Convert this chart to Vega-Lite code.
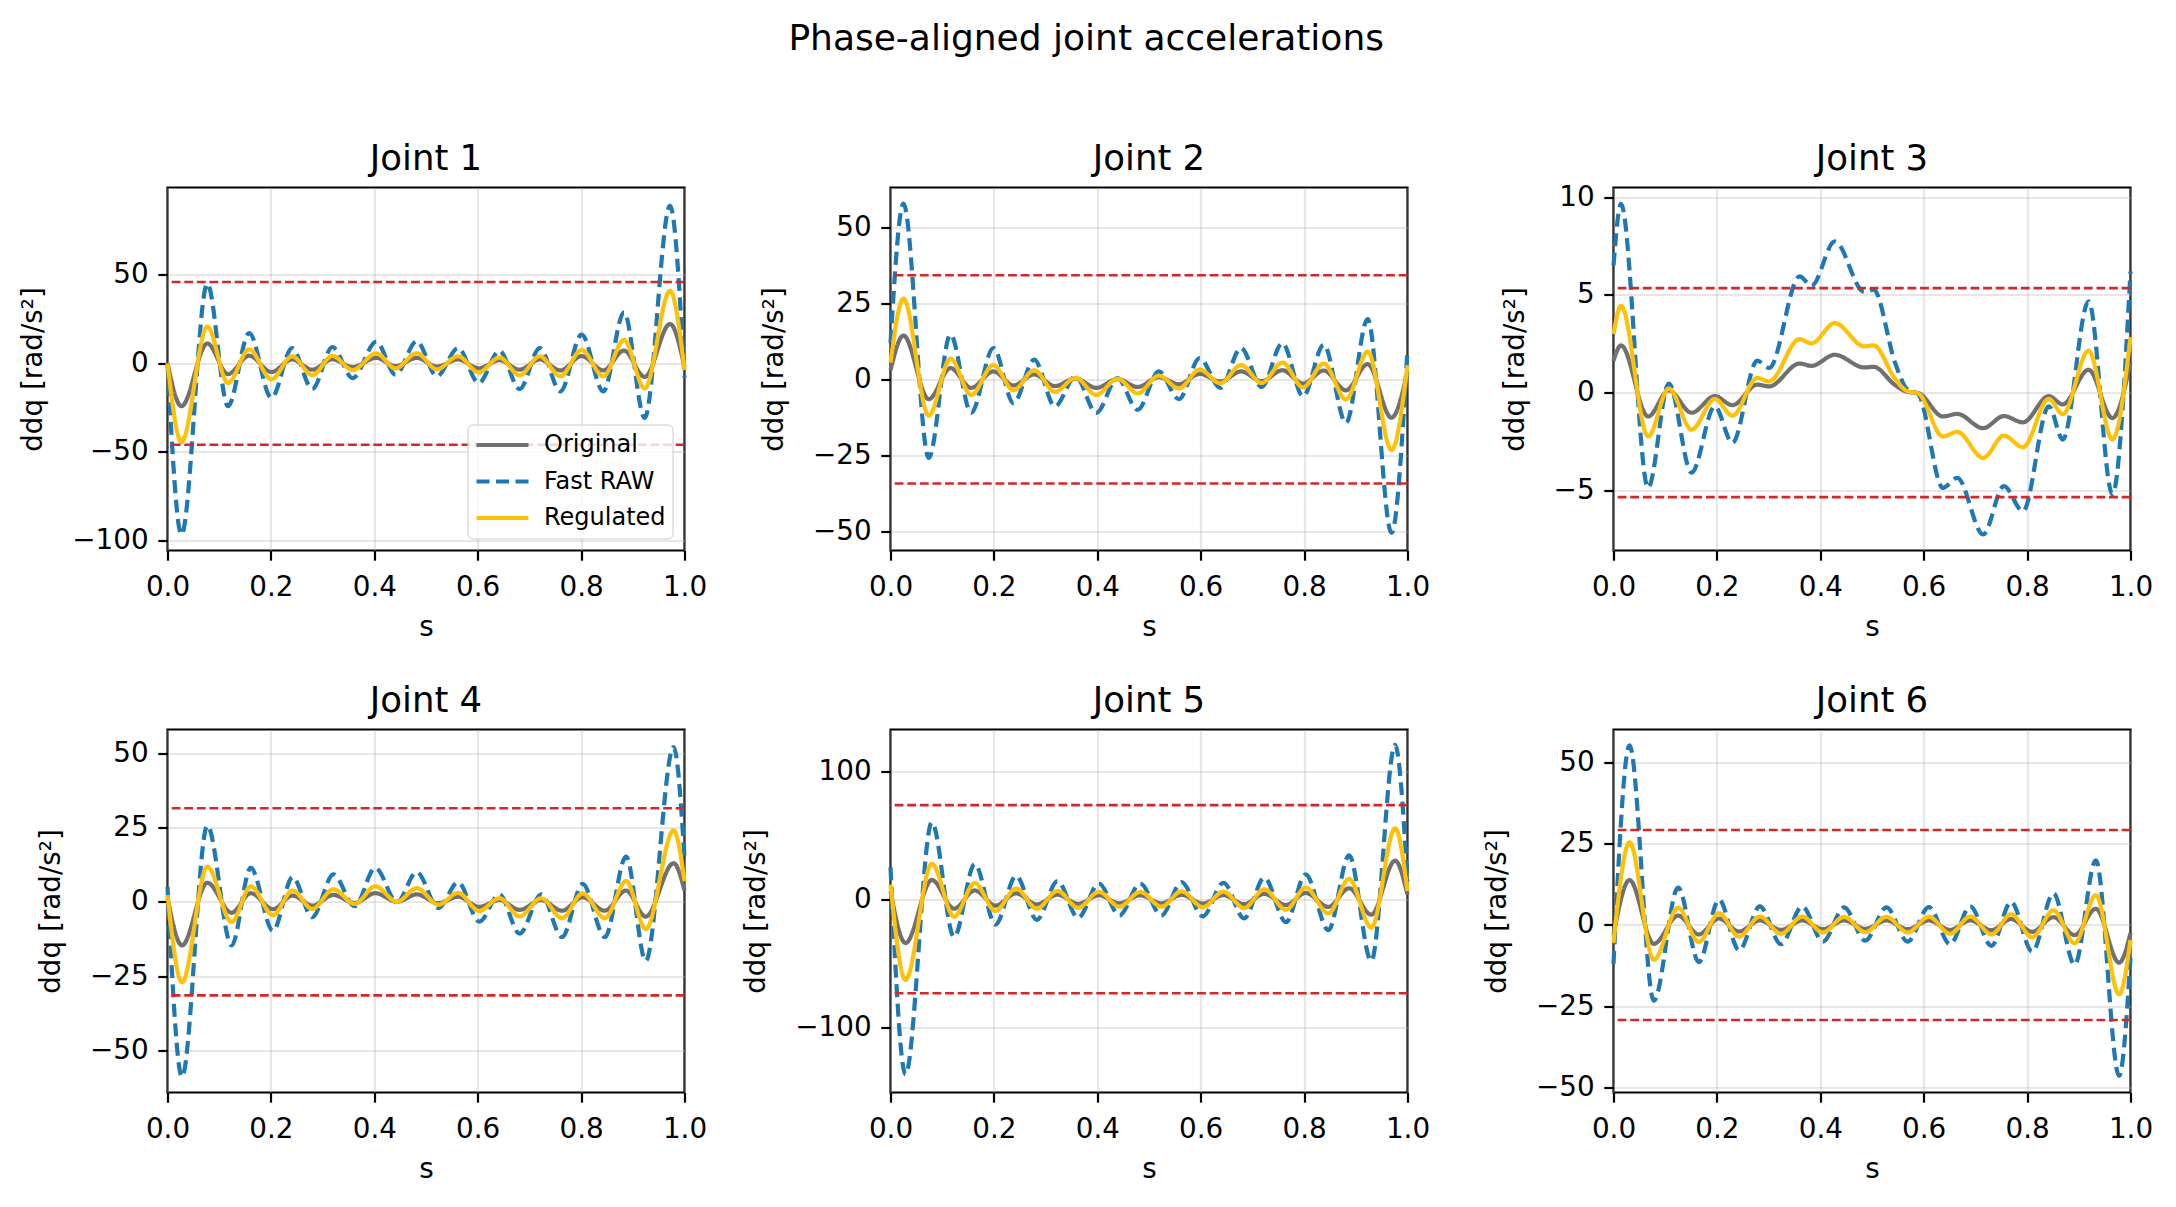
{
  "$schema": "https://vega.github.io/schema/vega-lite/v6.json",
  "background": "white",
  "autosize": {"type": "none"},
  "padding": {"left": 167.5, "top": 187.5, "right": 2008.5, "bottom": 1019.5},
  "title": {"text": "Phase-aligned joint accelerations", "fontSize": 36, "fontWeight": "normal", "color": "black", "anchor": "middle", "frame": "bounds", "baseline": "alphabetic", "offset": 55},
  "datasets": {
    "acc": [
      {"j":1,"s":0,"Original":0,"Fast RAW":0,"Regulated":0},
      {"j":1,"s":0.027,"Original":-24.2,"Fast RAW":-96.6,"Regulated":-44.4},
      {"j":1,"s":0.077,"Original":11.2,"Fast RAW":44.9,"Regulated":20.7},
      {"j":1,"s":0.117,"Original":-6.1,"Fast RAW":-24.2,"Regulated":-11.1},
      {"j":1,"s":0.158,"Original":4.3,"Fast RAW":17.1,"Regulated":7.9},
      {"j":1,"s":0.201,"Original":-4.9,"Fast RAW":-19.5,"Regulated":-9.0},
      {"j":1,"s":0.241,"Original":2.2,"Fast RAW":8.6,"Regulated":4.0},
      {"j":1,"s":0.28,"Original":-3.6,"Fast RAW":-14.5,"Regulated":-6.7},
      {"j":1,"s":0.319,"Original":2.3,"Fast RAW":9.2,"Regulated":4.2},
      {"j":1,"s":0.358,"Original":-2.1,"Fast RAW":-8.3,"Regulated":-3.8},
      {"j":1,"s":0.404,"Original":3.1,"Fast RAW":12.2,"Regulated":5.6},
      {"j":1,"s":0.441,"Original":-1.6,"Fast RAW":-6.4,"Regulated":-2.9},
      {"j":1,"s":0.482,"Original":3.1,"Fast RAW":12.4,"Regulated":5.7},
      {"j":1,"s":0.521,"Original":-1.8,"Fast RAW":-7.3,"Regulated":-3.4},
      {"j":1,"s":0.562,"Original":2.2,"Fast RAW":8.6,"Regulated":4.0},
      {"j":1,"s":0.602,"Original":-2.8,"Fast RAW":-11.1,"Regulated":-5.1},
      {"j":1,"s":0.642,"Original":1.8,"Fast RAW":7.1,"Regulated":3.3},
      {"j":1,"s":0.681,"Original":-3.6,"Fast RAW":-14.5,"Regulated":-6.7},
      {"j":1,"s":0.72,"Original":2.2,"Fast RAW":8.6,"Regulated":4.0},
      {"j":1,"s":0.76,"Original":-4.0,"Fast RAW":-15.8,"Regulated":-7.3},
      {"j":1,"s":0.801,"Original":4.1,"Fast RAW":16.2,"Regulated":7.5},
      {"j":1,"s":0.843,"Original":-4.0,"Fast RAW":-15.8,"Regulated":-7.3},
      {"j":1,"s":0.883,"Original":7.2,"Fast RAW":28.8,"Regulated":13.2},
      {"j":1,"s":0.923,"Original":-7.7,"Fast RAW":-30.8,"Regulated":-14.2},
      {"j":1,"s":0.972,"Original":22.2,"Fast RAW":88.9,"Regulated":40.9},
      {"j":1,"s":1,"Original":-2.0,"Fast RAW":-8,"Regulated":-3.7},

      {"j":2,"s":0,"Original":3.0,"Fast RAW":12,"Regulated":5.5},
      {"j":2,"s":0.025,"Original":14.4,"Fast RAW":57.7,"Regulated":26.5},
      {"j":2,"s":0.074,"Original":-6.5,"Fast RAW":-25.8,"Regulated":-11.9},
      {"j":2,"s":0.116,"Original":3.7,"Fast RAW":14.7,"Regulated":6.8},
      {"j":2,"s":0.156,"Original":-2.8,"Fast RAW":-11,"Regulated":-5.1},
      {"j":2,"s":0.199,"Original":2.6,"Fast RAW":10.3,"Regulated":4.7},
      {"j":2,"s":0.238,"Original":-2.0,"Fast RAW":-7.8,"Regulated":-3.6},
      {"j":2,"s":0.278,"Original":1.6,"Fast RAW":6.5,"Regulated":3.0},
      {"j":2,"s":0.318,"Original":-2.2,"Fast RAW":-8.9,"Regulated":-4.1},
      {"j":2,"s":0.358,"Original":0.3,"Fast RAW":1.0,"Regulated":0.5},
      {"j":2,"s":0.398,"Original":-2.8,"Fast RAW":-11,"Regulated":-5.1},
      {"j":2,"s":0.439,"Original":0.1,"Fast RAW":0.4,"Regulated":0.2},
      {"j":2,"s":0.478,"Original":-2.5,"Fast RAW":-10,"Regulated":-4.6},
      {"j":2,"s":0.519,"Original":0.7,"Fast RAW":2.6,"Regulated":1.2},
      {"j":2,"s":0.558,"Original":-1.6,"Fast RAW":-6.5,"Regulated":-3.0},
      {"j":2,"s":0.598,"Original":1.8,"Fast RAW":7.0,"Regulated":3.2},
      {"j":2,"s":0.638,"Original":-0.7,"Fast RAW":-2.8,"Regulated":-1.3},
      {"j":2,"s":0.678,"Original":2.6,"Fast RAW":10.3,"Regulated":4.7},
      {"j":2,"s":0.718,"Original":-0.6,"Fast RAW":-2.5,"Regulated":-1.2},
      {"j":2,"s":0.758,"Original":3.0,"Fast RAW":11.9,"Regulated":5.5},
      {"j":2,"s":0.798,"Original":-1.4,"Fast RAW":-5.6,"Regulated":-2.6},
      {"j":2,"s":0.838,"Original":2.9,"Fast RAW":11.4,"Regulated":5.2},
      {"j":2,"s":0.881,"Original":-3.6,"Fast RAW":-14.3,"Regulated":-6.6},
      {"j":2,"s":0.923,"Original":5.0,"Fast RAW":19.8,"Regulated":9.1},
      {"j":2,"s":0.969,"Original":-12.6,"Fast RAW":-50.4,"Regulated":-23.2},
      {"j":2,"s":1,"Original":2.5,"Fast RAW":10,"Regulated":4.6},

      {"j":3,"s":0,"Original":1.63,"Fast RAW":6.5,"Regulated":2.99},
      {"j":3,"s":0.0145,"Original":2.42,"Fast RAW":9.66,"Regulated":4.44},
      {"j":3,"s":0.067,"Original":-1.22,"Fast RAW":-4.87,"Regulated":-2.24},
      {"j":3,"s":0.107,"Original":0.12,"Fast RAW":0.46,"Regulated":0.21},
      {"j":3,"s":0.151,"Original":-1.03,"Fast RAW":-4.1,"Regulated":-1.89},
      {"j":3,"s":0.196,"Original":-0.18,"Fast RAW":-0.7,"Regulated":-0.32},
      {"j":3,"s":0.23,"Original":-0.64,"Fast RAW":-2.57,"Regulated":-1.18},
      {"j":3,"s":0.278,"Original":0.41,"Fast RAW":1.64,"Regulated":0.75},
      {"j":3,"s":0.301,"Original":0.32,"Fast RAW":1.26,"Regulated":0.58},
      {"j":3,"s":0.36,"Original":1.49,"Fast RAW":5.95,"Regulated":2.74},
      {"j":3,"s":0.383,"Original":1.37,"Fast RAW":5.47,"Regulated":2.52},
      {"j":3,"s":0.428,"Original":1.94,"Fast RAW":7.74,"Regulated":3.56},
      {"j":3,"s":0.485,"Original":1.29,"Fast RAW":5.15,"Regulated":2.37},
      {"j":3,"s":0.503,"Original":1.32,"Fast RAW":5.27,"Regulated":2.42},
      {"j":3,"s":0.545,"Original":0.38,"Fast RAW":1.5,"Regulated":0.69},
      {"j":3,"s":0.567,"Original":0.05,"Fast RAW":0.2,"Regulated":0.09},
      {"j":3,"s":0.59,"Original":-0.03,"Fast RAW":-0.1,"Regulated":-0.05},
      {"j":3,"s":0.637,"Original":-1.22,"Fast RAW":-4.87,"Regulated":-2.24},
      {"j":3,"s":0.665,"Original":-1.09,"Fast RAW":-4.36,"Regulated":-2.01},
      {"j":3,"s":0.715,"Original":-1.82,"Fast RAW":-7.26,"Regulated":-3.34},
      {"j":3,"s":0.755,"Original":-1.2,"Fast RAW":-4.79,"Regulated":-2.2},
      {"j":3,"s":0.792,"Original":-1.52,"Fast RAW":-6.07,"Regulated":-2.79},
      {"j":3,"s":0.842,"Original":-0.18,"Fast RAW":-0.7,"Regulated":-0.32},
      {"j":3,"s":0.869,"Original":-0.6,"Fast RAW":-2.4,"Regulated":-1.1},
      {"j":3,"s":0.919,"Original":1.17,"Fast RAW":4.67,"Regulated":2.15},
      {"j":3,"s":0.965,"Original":-1.3,"Fast RAW":-5.2,"Regulated":-2.39},
      {"j":3,"s":1,"Original":1.55,"Fast RAW":6.2,"Regulated":2.85},

      {"j":4,"s":0,"Original":1.3,"Fast RAW":5,"Regulated":2.3},
      {"j":4,"s":0.028,"Original":-14.7,"Fast RAW":-58.9,"Regulated":-27.1},
      {"j":4,"s":0.077,"Original":6.4,"Fast RAW":25.6,"Regulated":11.8},
      {"j":4,"s":0.124,"Original":-3.7,"Fast RAW":-14.7,"Regulated":-6.8},
      {"j":4,"s":0.161,"Original":2.9,"Fast RAW":11.4,"Regulated":5.2},
      {"j":4,"s":0.204,"Original":-2.5,"Fast RAW":-9.8,"Regulated":-4.5},
      {"j":4,"s":0.242,"Original":2.1,"Fast RAW":8.3,"Regulated":3.8},
      {"j":4,"s":0.28,"Original":-1.3,"Fast RAW":-5.2,"Regulated":-2.4},
      {"j":4,"s":0.321,"Original":2.3,"Fast RAW":9.2,"Regulated":4.2},
      {"j":4,"s":0.362,"Original":-0.4,"Fast RAW":-1.5,"Regulated":-0.7},
      {"j":4,"s":0.402,"Original":2.9,"Fast RAW":11.4,"Regulated":5.2},
      {"j":4,"s":0.444,"Original":0.0,"Fast RAW":-0.1,"Regulated":0.0},
      {"j":4,"s":0.482,"Original":2.5,"Fast RAW":10.0,"Regulated":4.6},
      {"j":4,"s":0.524,"Original":-0.5,"Fast RAW":-2.1,"Regulated":-1.0},
      {"j":4,"s":0.562,"Original":1.7,"Fast RAW":6.6,"Regulated":3.0},
      {"j":4,"s":0.603,"Original":-1.7,"Fast RAW":-6.7,"Regulated":-3.1},
      {"j":4,"s":0.642,"Original":0.6,"Fast RAW":2.5,"Regulated":1.2},
      {"j":4,"s":0.681,"Original":-2.7,"Fast RAW":-10.7,"Regulated":-4.9},
      {"j":4,"s":0.723,"Original":0.6,"Fast RAW":2.5,"Regulated":1.2},
      {"j":4,"s":0.763,"Original":-3.0,"Fast RAW":-11.9,"Regulated":-5.5},
      {"j":4,"s":0.803,"Original":1.5,"Fast RAW":6.0,"Regulated":2.8},
      {"j":4,"s":0.846,"Original":-3.0,"Fast RAW":-11.9,"Regulated":-5.5},
      {"j":4,"s":0.887,"Original":3.8,"Fast RAW":15.2,"Regulated":7.0},
      {"j":4,"s":0.925,"Original":-5.0,"Fast RAW":-19.9,"Regulated":-9.2},
      {"j":4,"s":0.979,"Original":13.0,"Fast RAW":52.1,"Regulated":24.0},
      {"j":4,"s":1,"Original":3.8,"Fast RAW":15,"Regulated":6.9},

      {"j":5,"s":0,"Original":6.3,"Fast RAW":25,"Regulated":11.5},
      {"j":5,"s":0.029,"Original":-34.3,"Fast RAW":-137.1,"Regulated":-63.1},
      {"j":5,"s":0.08,"Original":15.1,"Fast RAW":60.2,"Regulated":27.7},
      {"j":5,"s":0.123,"Original":-7.4,"Fast RAW":-29.5,"Regulated":-13.6},
      {"j":5,"s":0.163,"Original":6.9,"Fast RAW":27.6,"Regulated":12.7},
      {"j":5,"s":0.203,"Original":-5.0,"Fast RAW":-19.8,"Regulated":-9.1},
      {"j":5,"s":0.243,"Original":4.6,"Fast RAW":18.2,"Regulated":8.4},
      {"j":5,"s":0.283,"Original":-4.0,"Fast RAW":-16.1,"Regulated":-7.4},
      {"j":5,"s":0.323,"Original":3.6,"Fast RAW":14.2,"Regulated":6.5},
      {"j":5,"s":0.363,"Original":-3.6,"Fast RAW":-14.5,"Regulated":-6.7},
      {"j":5,"s":0.403,"Original":3.1,"Fast RAW":12.3,"Regulated":5.7},
      {"j":5,"s":0.443,"Original":-3.2,"Fast RAW":-12.6,"Regulated":-5.8},
      {"j":5,"s":0.483,"Original":3.1,"Fast RAW":12.3,"Regulated":5.7},
      {"j":5,"s":0.524,"Original":-3.2,"Fast RAW":-12.6,"Regulated":-5.8},
      {"j":5,"s":0.563,"Original":3.4,"Fast RAW":13.4,"Regulated":6.2},
      {"j":5,"s":0.604,"Original":-3.4,"Fast RAW":-13.4,"Regulated":-6.2},
      {"j":5,"s":0.644,"Original":3.2,"Fast RAW":12.9,"Regulated":5.9},
      {"j":5,"s":0.684,"Original":-3.8,"Fast RAW":-15.0,"Regulated":-6.9},
      {"j":5,"s":0.723,"Original":4.2,"Fast RAW":16.9,"Regulated":7.8},
      {"j":5,"s":0.765,"Original":-4.5,"Fast RAW":-17.9,"Regulated":-8.2},
      {"j":5,"s":0.803,"Original":4.9,"Fast RAW":19.5,"Regulated":9.0},
      {"j":5,"s":0.847,"Original":-6.0,"Fast RAW":-24.1,"Regulated":-11.1},
      {"j":5,"s":0.887,"Original":8.6,"Fast RAW":34.3,"Regulated":15.8},
      {"j":5,"s":0.93,"Original":-12.1,"Fast RAW":-48.2,"Regulated":-22.2},
      {"j":5,"s":0.976,"Original":30.2,"Fast RAW":120.7,"Regulated":55.5},
      {"j":5,"s":1,"Original":3.5,"Fast RAW":14,"Regulated":6.4},

      {"j":6,"s":0,"Original":-3.0,"Fast RAW":-12,"Regulated":-5.5},
      {"j":6,"s":0.031,"Original":13.8,"Fast RAW":55.2,"Regulated":25.4},
      {"j":6,"s":0.078,"Original":-5.8,"Fast RAW":-23.3,"Regulated":-10.7},
      {"j":6,"s":0.125,"Original":2.9,"Fast RAW":11.5,"Regulated":5.3},
      {"j":6,"s":0.165,"Original":-2.9,"Fast RAW":-11.4,"Regulated":-5.2},
      {"j":6,"s":0.204,"Original":2.0,"Fast RAW":7.8,"Regulated":3.6},
      {"j":6,"s":0.243,"Original":-2.0,"Fast RAW":-7.8,"Regulated":-3.6},
      {"j":6,"s":0.283,"Original":1.4,"Fast RAW":5.7,"Regulated":2.6},
      {"j":6,"s":0.324,"Original":-1.5,"Fast RAW":-5.9,"Regulated":-2.7},
      {"j":6,"s":0.365,"Original":1.4,"Fast RAW":5.7,"Regulated":2.6},
      {"j":6,"s":0.405,"Original":-1.3,"Fast RAW":-5.1,"Regulated":-2.3},
      {"j":6,"s":0.446,"Original":1.4,"Fast RAW":5.4,"Regulated":2.5},
      {"j":6,"s":0.487,"Original":-1.2,"Fast RAW":-4.8,"Regulated":-2.2},
      {"j":6,"s":0.528,"Original":1.4,"Fast RAW":5.4,"Regulated":2.5},
      {"j":6,"s":0.569,"Original":-1.3,"Fast RAW":-5.1,"Regulated":-2.3},
      {"j":6,"s":0.61,"Original":1.4,"Fast RAW":5.5,"Regulated":2.5},
      {"j":6,"s":0.651,"Original":-1.5,"Fast RAW":-5.9,"Regulated":-2.7},
      {"j":6,"s":0.69,"Original":1.4,"Fast RAW":5.7,"Regulated":2.6},
      {"j":6,"s":0.731,"Original":-1.6,"Fast RAW":-6.4,"Regulated":-2.9},
      {"j":6,"s":0.769,"Original":1.8,"Fast RAW":7.1,"Regulated":3.3},
      {"j":6,"s":0.81,"Original":-2.1,"Fast RAW":-8.2,"Regulated":-3.8},
      {"j":6,"s":0.851,"Original":2.4,"Fast RAW":9.7,"Regulated":4.5},
      {"j":6,"s":0.892,"Original":-3.1,"Fast RAW":-12.2,"Regulated":-5.6},
      {"j":6,"s":0.933,"Original":5.0,"Fast RAW":19.9,"Regulated":9.2},
      {"j":6,"s":0.978,"Original":-11.6,"Fast RAW":-46.4,"Regulated":-21.3},
      {"j":6,"s":1,"Original":-2.5,"Fast RAW":-10,"Regulated":-4.6}
    ],
    "lim": [
      {"j":1,"lim":45.9},{"j":1,"lim":-45.9},
      {"j":2,"lim":34.2},{"j":2,"lim":-34.2},
      {"j":3,"lim":5.35},{"j":3,"lim":-5.35},
      {"j":4,"lim":31.5},{"j":4,"lim":-31.5},
      {"j":5,"lim":73.6},{"j":5,"lim":-73.6},
      {"j":6,"lim":29.2},{"j":6,"lim":-29.2}
    ]
  },
  "columns": 3,
  "spacing": {"row": 179, "column": 206},
  "bounds": "flush",
  "resolve": {
    "scale": {"x": "independent", "y": "independent"},
    "legend": {"color": "independent", "strokeDash": "independent", "strokeWidth": "independent"}
  },
  "concat": [
    {
      "width": 517, "height": 363, "title": {"text": "Joint 1"},
      "layer": [
        {
          "data": {"name": "acc"},
          "transform": [{"filter": "datum.j == 1"}, {"fold": ["Original", "Fast RAW", "Regulated"], "as": ["series", "v"]}],
          "mark": {"type": "line", "interpolate": "monotone"},
          "encoding": {
            "x": {"field": "s", "type": "quantitative", "title": "s", "scale": {"domain": [0, 1], "nice": false, "zero": false}, "axis": {"values": [0, 0.2, 0.4, 0.6, 0.8, 1], "format": ".1f"}},
            "y": {"field": "v", "type": "quantitative", "title": "ddq [rad/s²]", "scale": {"domain": [-105.6, 99.2], "nice": false, "zero": false}, "axis": {"values": [-100, -50, 0, 50]}},
            "color": {"field": "series", "type": "nominal", "scale": {"domain": ["Original", "Fast RAW", "Regulated"], "range": ["#707070", "#1f77b4", "#ffc107"]},
              "legend": {"title": null, "orient": "bottom-right", "offset": 12, "symbolType": "stroke", "symbolSize": 2704, "labelFontSize": 24, "labelColor": "black", "fillColor": "rgba(255,255,255,0.8)", "strokeColor": "#cccccc", "cornerRadius": 5, "padding": 6.5, "clipHeight": 28, "rowPadding": 8.5, "labelOffset": 13, "labelLimit": 300}},
            "strokeDash": {"field": "series", "type": "nominal", "scale": {"domain": ["Original", "Fast RAW", "Regulated"], "range": [[1, 0], [13, 6.5], [1, 0]]}},
            "strokeWidth": {"field": "series", "type": "nominal", "scale": {"domain": ["Original", "Fast RAW", "Regulated"], "range": [4.2, 4.2, 5.4]}}
          }
        },
        {
          "data": {"name": "lim"},
          "transform": [{"filter": "datum.j == 1"}],
          "mark": {"type": "rule", "color": "#d62728", "strokeWidth": 2.6, "strokeDash": [8.8, 3.8]},
          "encoding": {"y": {"field": "lim", "type": "quantitative", "title": "ddq [rad/s²]"}}
        }
      ]
    },
    {
      "width": 517, "height": 363, "title": {"text": "Joint 2"},
      "layer": [
        {
          "data": {"name": "acc"},
          "transform": [{"filter": "datum.j == 2"}, {"fold": ["Original", "Fast RAW", "Regulated"], "as": ["series", "v"]}],
          "mark": {"type": "line", "interpolate": "monotone"},
          "encoding": {
            "x": {"field": "s", "type": "quantitative", "title": "s", "scale": {"domain": [0, 1], "nice": false, "zero": false}, "axis": {"values": [0, 0.2, 0.4, 0.6, 0.8, 1], "format": ".1f"}},
            "y": {"field": "v", "type": "quantitative", "title": "ddq [rad/s²]", "scale": {"domain": [-56.2, 63.0], "nice": false, "zero": false}, "axis": {"values": [-50, -25, 0, 25, 50]}},
            "color": {"field": "series", "type": "nominal", "scale": {"domain": ["Original", "Fast RAW", "Regulated"], "range": ["#707070", "#1f77b4", "#ffc107"]}, "legend": null},
            "strokeDash": {"field": "series", "type": "nominal", "scale": {"domain": ["Original", "Fast RAW", "Regulated"], "range": [[1, 0], [13, 6.5], [1, 0]]}, "legend": null},
            "strokeWidth": {"field": "series", "type": "nominal", "scale": {"domain": ["Original", "Fast RAW", "Regulated"], "range": [4.2, 4.2, 5.4]}, "legend": null}
          }
        },
        {
          "data": {"name": "lim"},
          "transform": [{"filter": "datum.j == 2"}],
          "mark": {"type": "rule", "color": "#d62728", "strokeWidth": 2.6, "strokeDash": [8.8, 3.8]},
          "encoding": {"y": {"field": "lim", "type": "quantitative", "title": "ddq [rad/s²]"}}
        }
      ]
    },
    {
      "width": 517, "height": 363, "title": {"text": "Joint 3", "offset": 5.4},
      "layer": [
        {
          "data": {"name": "acc"},
          "transform": [{"filter": "datum.j == 3"}, {"fold": ["Original", "Fast RAW", "Regulated"], "as": ["series", "v"]}],
          "mark": {"type": "line", "interpolate": "monotone"},
          "encoding": {
            "x": {"field": "s", "type": "quantitative", "title": "s", "scale": {"domain": [0, 1], "nice": false, "zero": false}, "axis": {"values": [0, 0.2, 0.4, 0.6, 0.8, 1], "format": ".1f"}},
            "y": {"field": "v", "type": "quantitative", "title": "ddq [rad/s²]", "scale": {"domain": [-8.08, 10.5], "nice": false, "zero": false}, "axis": {"values": [-5, 0, 5, 10]}},
            "color": {"field": "series", "type": "nominal", "scale": {"domain": ["Original", "Fast RAW", "Regulated"], "range": ["#707070", "#1f77b4", "#ffc107"]}, "legend": null},
            "strokeDash": {"field": "series", "type": "nominal", "scale": {"domain": ["Original", "Fast RAW", "Regulated"], "range": [[1, 0], [13, 6.5], [1, 0]]}, "legend": null},
            "strokeWidth": {"field": "series", "type": "nominal", "scale": {"domain": ["Original", "Fast RAW", "Regulated"], "range": [4.2, 4.2, 5.4]}, "legend": null}
          }
        },
        {
          "data": {"name": "lim"},
          "transform": [{"filter": "datum.j == 3"}],
          "mark": {"type": "rule", "color": "#d62728", "strokeWidth": 2.6, "strokeDash": [8.8, 3.8]},
          "encoding": {"y": {"field": "lim", "type": "quantitative", "title": "ddq [rad/s²]"}}
        }
      ]
    },
    {
      "width": 517, "height": 363, "title": {"text": "Joint 4"},
      "layer": [
        {
          "data": {"name": "acc"},
          "transform": [{"filter": "datum.j == 4"}, {"fold": ["Original", "Fast RAW", "Regulated"], "as": ["series", "v"]}],
          "mark": {"type": "line", "interpolate": "monotone"},
          "encoding": {
            "x": {"field": "s", "type": "quantitative", "title": "s", "scale": {"domain": [0, 1], "nice": false, "zero": false}, "axis": {"values": [0, 0.2, 0.4, 0.6, 0.8, 1], "format": ".1f"}},
            "y": {"field": "v", "type": "quantitative", "title": "ddq [rad/s²]", "scale": {"domain": [-64.2, 58.0], "nice": false, "zero": false}, "axis": {"values": [-50, -25, 0, 25, 50]}},
            "color": {"field": "series", "type": "nominal", "scale": {"domain": ["Original", "Fast RAW", "Regulated"], "range": ["#707070", "#1f77b4", "#ffc107"]}, "legend": null},
            "strokeDash": {"field": "series", "type": "nominal", "scale": {"domain": ["Original", "Fast RAW", "Regulated"], "range": [[1, 0], [13, 6.5], [1, 0]]}, "legend": null},
            "strokeWidth": {"field": "series", "type": "nominal", "scale": {"domain": ["Original", "Fast RAW", "Regulated"], "range": [4.2, 4.2, 5.4]}, "legend": null}
          }
        },
        {
          "data": {"name": "lim"},
          "transform": [{"filter": "datum.j == 4"}],
          "mark": {"type": "rule", "color": "#d62728", "strokeWidth": 2.6, "strokeDash": [8.8, 3.8]},
          "encoding": {"y": {"field": "lim", "type": "quantitative", "title": "ddq [rad/s²]"}}
        }
      ]
    },
    {
      "width": 517, "height": 363, "title": {"text": "Joint 5"},
      "layer": [
        {
          "data": {"name": "acc"},
          "transform": [{"filter": "datum.j == 5"}, {"fold": ["Original", "Fast RAW", "Regulated"], "as": ["series", "v"]}],
          "mark": {"type": "line", "interpolate": "monotone"},
          "encoding": {
            "x": {"field": "s", "type": "quantitative", "title": "s", "scale": {"domain": [0, 1], "nice": false, "zero": false}, "axis": {"values": [0, 0.2, 0.4, 0.6, 0.8, 1], "format": ".1f"}},
            "y": {"field": "v", "type": "quantitative", "title": "ddq [rad/s²]", "scale": {"domain": [-151.2, 132.8], "nice": false, "zero": false}, "axis": {"values": [-100, 0, 100]}},
            "color": {"field": "series", "type": "nominal", "scale": {"domain": ["Original", "Fast RAW", "Regulated"], "range": ["#707070", "#1f77b4", "#ffc107"]}, "legend": null},
            "strokeDash": {"field": "series", "type": "nominal", "scale": {"domain": ["Original", "Fast RAW", "Regulated"], "range": [[1, 0], [13, 6.5], [1, 0]]}, "legend": null},
            "strokeWidth": {"field": "series", "type": "nominal", "scale": {"domain": ["Original", "Fast RAW", "Regulated"], "range": [4.2, 4.2, 5.4]}, "legend": null}
          }
        },
        {
          "data": {"name": "lim"},
          "transform": [{"filter": "datum.j == 5"}],
          "mark": {"type": "rule", "color": "#d62728", "strokeWidth": 2.6, "strokeDash": [8.8, 3.8]},
          "encoding": {"y": {"field": "lim", "type": "quantitative", "title": "ddq [rad/s²]"}}
        }
      ]
    },
    {
      "width": 517, "height": 363, "title": {"text": "Joint 6"},
      "layer": [
        {
          "data": {"name": "acc"},
          "transform": [{"filter": "datum.j == 6"}, {"fold": ["Original", "Fast RAW", "Regulated"], "as": ["series", "v"]}],
          "mark": {"type": "line", "interpolate": "monotone"},
          "encoding": {
            "x": {"field": "s", "type": "quantitative", "title": "s", "scale": {"domain": [0, 1], "nice": false, "zero": false}, "axis": {"values": [0, 0.2, 0.4, 0.6, 0.8, 1], "format": ".1f"}},
            "y": {"field": "v", "type": "quantitative", "title": "ddq [rad/s²]", "scale": {"domain": [-51.5, 60.1], "nice": false, "zero": false}, "axis": {"values": [-50, -25, 0, 25, 50]}},
            "color": {"field": "series", "type": "nominal", "scale": {"domain": ["Original", "Fast RAW", "Regulated"], "range": ["#707070", "#1f77b4", "#ffc107"]}, "legend": null},
            "strokeDash": {"field": "series", "type": "nominal", "scale": {"domain": ["Original", "Fast RAW", "Regulated"], "range": [[1, 0], [13, 6.5], [1, 0]]}, "legend": null},
            "strokeWidth": {"field": "series", "type": "nominal", "scale": {"domain": ["Original", "Fast RAW", "Regulated"], "range": [4.2, 4.2, 5.4]}, "legend": null}
          }
        },
        {
          "data": {"name": "lim"},
          "transform": [{"filter": "datum.j == 6"}],
          "mark": {"type": "rule", "color": "#d62728", "strokeWidth": 2.6, "strokeDash": [8.8, 3.8]},
          "encoding": {"y": {"field": "lim", "type": "quantitative", "title": "ddq [rad/s²]"}}
        }
      ]
    }
  ],
  "config": {
    "font": "DejaVu Sans",
    "view": {"stroke": "black", "strokeWidth": 2.2},
    "axis": {
      "domain": false, "grid": true, "gridColor": "#b0b0b0", "gridOpacity": 0.3, "gridWidth": 2.2,
      "ticks": true, "tickColor": "black", "tickSize": 9.7, "tickWidth": 2.2,
      "labelFontSize": 27.8, "labelColor": "black", "labelPadding": 9.7, "labelOverlap": false, "labelFlush": false,
      "titleFontSize": 27.8, "titleFontWeight": "normal", "titleColor": "black", "titlePadding": 11
    },
    "axisX": {"labelPadding": 13.5, "titlePadding": 12},
    "axisY": {"titlePadding": 24},
    "title": {"fontSize": 35.5, "fontWeight": "normal", "color": "black", "offset": 9.7, "baseline": "alphabetic", "anchor": "middle"}
  }
}
